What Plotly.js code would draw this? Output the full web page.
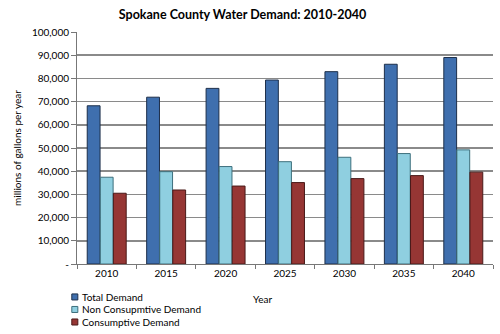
<!DOCTYPE html>
<html>
<head>
<meta charset="utf-8">
<script src="https://cdn.plot.ly/plotly-3.0.1.min.js"></script>
<style>html,body{margin:0;padding:0;background:#fff;}#chart{width:500px;height:334px;}</style>
</head>
<body>
<div id="chart"></div>
<script>
const years = ["2010", "2015", "2020", "2025", "2030", "2035", "2040"];
const totalDemand = [68200, 71900, 75700, 79300, 82900, 86100, 89000];
const nonConsumptiveDemand = [37400, 39800, 42000, 44100, 46000, 47600, 49200];
const consumptiveDemand = [30500, 31900, 33600, 35100, 36800, 38100, 39600];
const seriesNames = ["Total Demand", "Non Consupmtive Demand", "Consumptive Demand"];
const yTickVals = [0, 10000, 20000, 30000, 40000, 50000, 60000, 70000, 80000, 90000, 100000];
const yTickText = ["-", "10,000", "20,000", "30,000", "40,000", "50,000", "60,000", "70,000", "80,000", "90,000", "100,000"];

const font = "Lato, 'Open Sans', sans-serif";
const fills = ["#3f6fae", "#8fcfe0", "#963634"];
const edges = ["#1d2f4a", "#3d6f7c", "#4a1a19"];
const seriesValues = [totalDemand, nonConsumptiveDemand, consumptiveDemand];

const traces = seriesValues.map((vals, i) => ({
  type: "bar", name: seriesNames[i], x: years, y: vals,
  marker: {color: fills[i], line: {color: edges[i], width: 1}}
}));

// compact legend in the bottom margin, as in the reference
const legendRowsY = [-0.142, -0.196, -0.250];
const shapes = [];
const annotations = [];
seriesNames.forEach((name, i) => {
  const yc = legendRowsY[i];
  shapes.push({type: "rect", xref: "paper", yref: "paper", x0: -0.0125, x1: 0.002, y0: yc - 0.013, y1: yc + 0.013,
               fillcolor: fills[i], line: {color: edges[i], width: 1}});
  annotations.push({text: name, xref: "paper", yref: "paper", x: 0.008, y: yc, xanchor: "left", yanchor: "middle",
                    showarrow: false, font: {family: font, size: 10, color: "#000"}});
});
annotations.push({text: "Year", xref: "paper", yref: "paper", x: 0.447, y: -0.151, xanchor: "center", yanchor: "middle",
                  showarrow: false, font: {family: font, size: 10, color: "#000"}});

const layout = {
  width: 500, height: 334,
  margin: {l: 77, r: 7, t: 32, b: 70, autoexpand: false},
  paper_bgcolor: "#fff", plot_bgcolor: "#fff",
  font: {family: font, size: 10, color: "#000"},
  title: {text: "<b>Spokane County Water Demand: 2010-2040</b>", font: {family: font, size: 12.5, color: "#000"},
          x: 0.485, xanchor: "center", y: 0.955, yanchor: "middle", xref: "container", yref: "container"},
  barmode: "group", bargap: 0.34, bargroupgap: 0.02,
  showlegend: false,
  xaxis: {type: "category", tickson: "boundaries", ticks: "outside", ticklen: 4, tickcolor: "#777",
          showline: true, linecolor: "#777", linewidth: 1, showgrid: false,
          tickfont: {family: font, size: 10}},
  yaxis: {range: [0, 100000], tickvals: yTickVals, ticktext: yTickText, ticks: "outside", ticklen: 5,
          tickcolor: "#777", showline: true, linecolor: "#777", linewidth: 1,
          showgrid: true, gridcolor: "#8a8a8a", gridwidth: 1.5, zeroline: false,
          tickfont: {family: font, size: 10},
          title: {text: "millions of gallons per year", font: {family: font, size: 10}, standoff: 8}},
  shapes: shapes,
  annotations: annotations
};

Plotly.newPlot("chart", traces, layout, {displayModeBar: false, staticPlot: true});
</script>
</body>
</html>
